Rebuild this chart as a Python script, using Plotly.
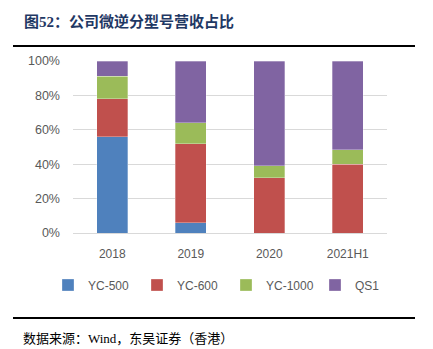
import plotly.graph_objects as go

categories = ["2018", "2019", "2020", "2021H1"]
yc500 = [56, 6, 0, 0]
yc600 = [22, 46, 32, 40]
yc1000 = [13, 12, 7, 8.5]
qs1 = [9, 36, 61, 51.5]

series = [
    ("YC-500", yc500, "#4f81bd"),
    ("YC-600", yc600, "#c0504d"),
    ("YC-1000", yc1000, "#9bbb59"),
    ("QS1", qs1, "#8064a2"),
]

fig = go.Figure()
for name, vals, color in series:
    fig.add_trace(go.Bar(
        x=categories, y=vals, name=name,
        marker=dict(color=color, line=dict(color="rgba(255,255,255,0.6)", width=0.5)),
    ))

L, R, T, B = 73, 46, 61, 116
W, H = 433, 349
pw, ph = W - L - R, H - T - B


def px(x):
    return (x - L) / pw


def py(y):
    return (H - B - y) / ph


fig.update_layout(
    width=W, height=H,
    margin=dict(l=L, r=R, t=T, b=B),
    barmode="stack", bargap=0.6,
    plot_bgcolor="white", paper_bgcolor="white",
    font=dict(family="Liberation Sans, Arial, sans-serif", color="#595959", size=12),
    showlegend=True,
    legend=dict(
        orientation="h", x=px(48), xanchor="left", y=py(285), yanchor="middle",
        traceorder="normal",
        entrywidth=44, entrywidthmode="pixels", font=dict(size=12, color="#595959"),
        itemwidth=30,
    ),
    xaxis=dict(showgrid=False, showline=False, ticks="", ticklabelstandoff=12,
               tickfont=dict(size=12, color="#595959")),
    yaxis=dict(range=[0, 100], dtick=20, ticksuffix="%", gridcolor="#d9d9d9", gridwidth=1,
               zeroline=True, zerolinecolor="#d9d9d9", zerolinewidth=1, ticklabelstandoff=12,
               tickfont=dict(size=12.5, color="#595959")),
    shapes=[
        dict(type="line", xref="paper", yref="paper", x0=px(13), x1=px(415), y0=py(46), y1=py(46),
             line=dict(color="black", width=2)),
        dict(type="line", xref="paper", yref="paper", x0=px(13), x1=px(415), y0=py(318), y1=py(318),
             line=dict(color="black", width=2)),
    ],
    annotations=[
        dict(text="<b>图52：公司微逆分型号营收占比</b>", xref="paper", yref="paper",
             x=px(22), y=py(21), xanchor="left", yanchor="middle", showarrow=False,
             font=dict(family="Liberation Serif, Noto Sans CJK SC", size=15, color="#1f3864")),
        dict(text="数据来源：Wind，东吴证券（香港）", xref="paper", yref="paper",
             x=px(21), y=py(338), xanchor="left", yanchor="middle", showarrow=False,
             font=dict(family="Liberation Serif, Noto Sans CJK SC", size=13, color="black")),
    ],
)

fig.write_html("out.html")
